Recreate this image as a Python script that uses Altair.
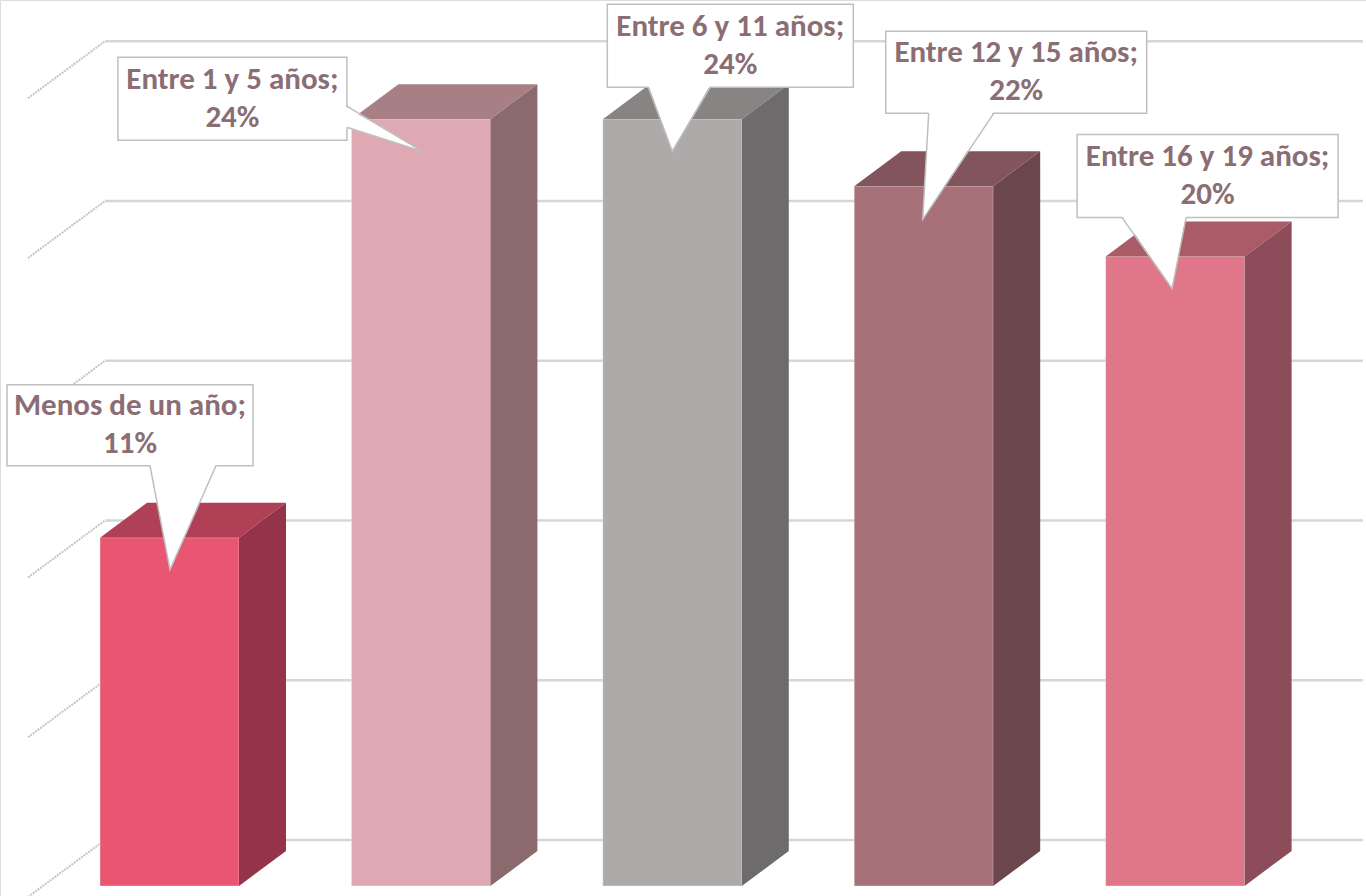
import altair as alt
import pandas as pd

# ---------------- data ----------------
categories = ["Menos de un año", "Entre 1 y 5 años", "Entre 6 y 11 años",
              "Entre 12 y 15 años", "Entre 16 y 19 años"]
values = [10.9, 24.0, 24.0, 21.9, 19.7]
pct_labels = ["11%", "24%", "24%", "22%", "20%"]
grid_ticks = [0, 5, 10, 15, 20, 25]

# ---------------- style ----------------
front_colors = ["#E85672", "#DEA9B3", "#AEAAAA", "#A87079", "#DF7689"]
top_colors = ["#B04056", "#A97F86", "#888484", "#82555D", "#A95B68"]
side_colors = ["#943349", "#8B6A6E", "#6E6B6C", "#6C464D", "#8C4C59"]
TEXT_COLOR = "#8B6D74"
GRID_COLOR = "#D6D6D6"
BOX_STROKE = "#BFBFBF"
FONT = "Carlito, 'Liberation Sans Narrow', Lato, sans-serif"

W, H = 1366, 896
PX_CAT = 251.4      # pixels per category step
X0 = 169.5          # pixel of first category centre
PX_PCT = 31.95      # pixels per percentage point
Y0 = 886.0          # pixel of 0 %

HALF_W = 69.5 / PX_CAT          # half width of the front face
DEPTH_X = 47 / PX_CAT           # 3D depth, horizontal
DEPTH_Y = 35 / PX_PCT           # 3D depth, vertical
GRID_SHIFT = 46 / PX_PCT        # back wall lift of gridlines
WALL_LEFT = (105 - X0) / PX_CAT
WALL_FRONT_X = (28 - X0) / PX_CAT
WALL_DROP = 57 / PX_PCT
GRID_RIGHT = (1363 - X0) / PX_CAT
LINE_GAP = 19                   # half distance between the two label lines (px)


def cx(px):
    return px / PX_CAT


def cy(px):
    return -px / PX_PCT


# callout layout (pixel offsets): tip offset from bar top centre, box centre
# relative to tip, box size, pointer base along the box edge
callouts = [
    dict(tip=(0.5, 32), box=(-40, -144.5), size=(246, 81), side="bottom", base=(20, 86)),
    dict(tip=(1, 32), box=(-189.5, -52.5), size=(229, 83), side="right", base=(7.5, 28.5)),
    dict(tip=(0, 32), box=(58, -105.5), size=(246, 83), side="bottom", base=(-82, -20)),
    dict(tip=(-1, 33), box=(93.5, -147), size=(261, 82), side="bottom", base=(-87.5, -22.5)),
    dict(tip=(-3, 32), box=(35.5, -112.5), size=(261, 83), side="bottom", base=(-85.5, -21.5)),
]

xs = alt.Scale(domain=[-X0 / PX_CAT, (W - X0) / PX_CAT], nice=False, zero=False)
ys = alt.Scale(domain=[(Y0 - H) / PX_PCT, Y0 / PX_PCT], nice=False, zero=False)

# ---------------- tables ----------------
grid_df = pd.DataFrame({
    "x": [WALL_LEFT] * len(grid_ticks),
    "x2": [GRID_RIGHT] * len(grid_ticks),
    "y": [g + GRID_SHIFT for g in grid_ticks],
})
wall_df = pd.DataFrame({
    "x": [WALL_FRONT_X] * len(grid_ticks),
    "x2": [WALL_LEFT] * len(grid_ticks),
    "y": [g + GRID_SHIFT - WALL_DROP for g in grid_ticks],
    "y2": [g + GRID_SHIFT for g in grid_ticks],
})

front_rows, top_rows, side_rows = [], [], []
for i, (c, v) in enumerate(zip(categories, values)):
    front_rows.append(dict(cat=c, x=i - HALF_W, x2=i + HALF_W, y=0, y2=v, fill=front_colors[i]))
    top_rows.append(dict(cat=c, y=v, x=i - HALF_W, x2=i + HALF_W, fill=top_colors[i]))
    top_rows.append(dict(cat=c, y=v + DEPTH_Y, x=i - HALF_W + DEPTH_X, x2=i + HALF_W + DEPTH_X, fill=top_colors[i]))
    side_rows.append(dict(cat=c, x=i + HALF_W, y=0, y2=v, fill=side_colors[i]))
    side_rows.append(dict(cat=c, x=i + HALF_W + DEPTH_X, y=DEPTH_Y, y2=v + DEPTH_Y, fill=side_colors[i]))
front_df = pd.DataFrame(front_rows)
top_df = pd.DataFrame(top_rows)
side_df = pd.DataFrame(side_rows)

box_rows, text_rows, ptr_h_rows, ptr_v_rows, ptr_line_rows = [], [], [], [], []
for i, (c, v, p, co) in enumerate(zip(categories, values, pct_labels, callouts)):
    tx = i + cx(co["tip"][0])
    ty = v + cy(co["tip"][1])
    bx = tx + cx(co["box"][0])
    by = ty + cy(co["box"][1])
    hw = cx(co["size"][0] / 2)
    hh = co["size"][1] / 2 / PX_PCT
    box_rows.append(dict(cat=c, x=bx - hw, x2=bx + hw, y=by - hh, y2=by + hh))
    text_rows.append(dict(cat=c, x=bx, y=by + LINE_GAP / PX_PCT, text=c + ";"))
    text_rows.append(dict(cat=c, x=bx, y=by - LINE_GAP / PX_PCT, text=p))
    a, b = co["base"]
    if co["side"] == "bottom":
        edge = by - hh
        inner = edge + 2 / PX_PCT
        ptr_h_rows.append(dict(cat=c, y=inner, x=bx + cx(a), x2=bx + cx(b)))
        ptr_h_rows.append(dict(cat=c, y=ty, x=tx, x2=tx))
        pts = [(bx + cx(a), edge), (tx, ty), (bx + cx(b), edge)]
    else:
        edge = bx + hw
        inner = edge - cx(2)
        ptr_v_rows.append(dict(cat=c, x=inner, y=by + cy(a), y2=by + cy(b)))
        ptr_v_rows.append(dict(cat=c, x=tx, y=ty, y2=ty))
        pts = [(edge, by + cy(a)), (tx, ty), (edge, by + cy(b))]
    for k, (px_, py_) in enumerate(pts):
        ptr_line_rows.append(dict(cat=c, x=px_, y=py_, order=k))

box_df = pd.DataFrame(box_rows)
text_df = pd.DataFrame(text_rows)
ptr_h_df = pd.DataFrame(ptr_h_rows)
ptr_v_df = pd.DataFrame(ptr_v_rows)
ptr_line_df = pd.DataFrame(ptr_line_rows)


def X(f="x"):
    return alt.X(f"{f}:Q", scale=xs, axis=None)


def Y(f="y"):
    return alt.Y(f"{f}:Q", scale=ys, axis=None)


grid = alt.Chart(grid_df).mark_rule(color=GRID_COLOR, strokeWidth=2.5).encode(
    x=X(), x2="x2:Q", y=Y())
wall = alt.Chart(wall_df).mark_rule(color="#C4C4C4", strokeWidth=2, strokeDash=[2, 1]).encode(
    x=X(), x2="x2:Q", y=Y(), y2="y2:Q")

front = alt.Chart(front_df).mark_rect(stroke="#FFFFFF", strokeOpacity=0.35, strokeWidth=1).encode(
    x=X(), x2="x2:Q", y=Y(), y2="y2:Q", fill=alt.Fill("fill:N", scale=None))
top = alt.Chart(top_df).mark_area(orient="horizontal").encode(
    y=Y(), x=X(), x2="x2:Q", detail="cat:N", fill=alt.Fill("fill:N", scale=None))
side = alt.Chart(side_df).mark_area(orient="vertical").encode(
    x=X(), y=Y(), y2="y2:Q", detail="cat:N", fill=alt.Fill("fill:N", scale=None))

boxes = alt.Chart(box_df).mark_rect(fill="white", stroke=BOX_STROKE, strokeWidth=1.5).encode(
    x=X(), x2="x2:Q", y=Y(), y2="y2:Q")
ptr_h = alt.Chart(ptr_h_df).mark_area(orient="horizontal", color="white").encode(
    y=Y(), x=X(), x2="x2:Q", detail="cat:N")
ptr_v = alt.Chart(ptr_v_df).mark_area(orient="vertical", color="white").encode(
    x=X(), y=Y(), y2="y2:Q", detail="cat:N")
ptr_lines = alt.Chart(ptr_line_df).mark_line(color=BOX_STROKE, strokeWidth=1.5).encode(
    x=X(), y=Y(), detail="cat:N", order="order:Q")
texts = alt.Chart(text_df).mark_text(
    font=FONT, fontSize=31, fontWeight="bold", color=TEXT_COLOR,
    align="center", baseline="middle").encode(
    x=X(), y=Y(), text="text:N")

chart = alt.layer(grid, wall, front, top, side, boxes, ptr_h, ptr_v, ptr_lines, texts).properties(
    width=W, height=H, padding=0, autosize=alt.AutoSizeParams(type="none")
).configure_view(stroke=None).configure(background="white")

chart.save("out.html", embed_options={"renderer": "svg", "actions": False})
